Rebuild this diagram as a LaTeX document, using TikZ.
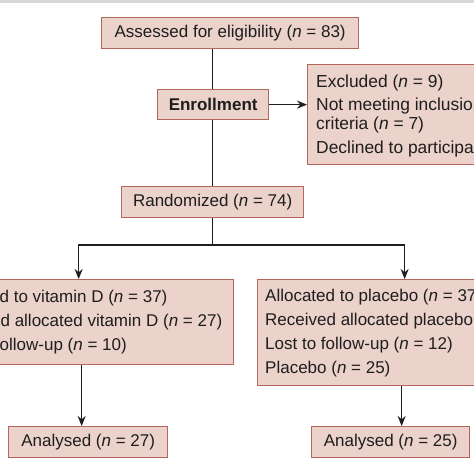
\documentclass[tikz,border=0pt]{standalone}
\usepackage{fontspec}
\setmainfont{Liberation Sans}
\usetikzlibrary{arrows.meta}
\definecolor{boxfill}{RGB}{235,210,202}
\definecolor{boxline}{RGB}{178,102,92}
\definecolor{ink}{RGB}{30,30,30}
\definecolor{band}{RGB}{216,216,216}
\tikzset{
  box/.style={draw=boxline, fill=boxfill, line width=1.3pt, inner sep=0pt, anchor=north west, text=ink,
    font=\fontsize{17}{20}\selectfont},
  txt/.style={anchor=west, align=left, inner sep=0pt, text=ink, font=\fontsize{17}{24}\selectfont},
  conn/.style={draw=ink, line width=1.3pt},
  arr/.style={conn, -{Stealth[length=10pt,width=8pt]}}
}
\newcommand{\nn}{\textit{n}}
\begin{document}
\begin{tikzpicture}[x=1pt,y=-1pt]
\useasboundingbox (0,0) rectangle (474,474);
\clip (0,0) rectangle (474,474);
\fill[white] (0,0) rectangle (474,474);
\fill[band] (0,0) rectangle (474,2.5);
% boxes
\node[box, minimum width=257pt, minimum height=31pt] (assess) at (101,17) {Assessed for eligibility (\nn{} = 83)};
\node[box, minimum width=111pt, minimum height=30pt] (enroll) at (157,89) {\bfseries Enrollment};
\node[box, minimum width=260pt, minimum height=100pt] (excl) at (307,64) {};
\node[box, minimum width=182pt, minimum height=31pt] (rand) at (121,186) {Randomized (\nn{} = 74)};
\node[box, minimum width=302pt, minimum height=85pt] (vit) at (-69,279) {};
\node[box, minimum width=294pt, minimum height=106pt] (plac) at (257,279) {};
\node[box, minimum width=159pt, minimum height=31pt] (anal1) at (8,426) {Analysed (\nn{} = 27)};
\node[box, minimum width=158pt, minimum height=31pt] (anal2) at (311,426) {Analysed (\nn{} = 25)};
% texts
\node[txt, font=\fontsize{17.4}{19}\selectfont] (excltxt) at ([xshift=9pt,yshift=-1pt]excl.west)
  {Excluded (\nn{} = 9)\\[4.5pt]Not meeting inclusion\\criteria (\nn{} = 7)\\[4.5pt]Declined to participate (\nn{} = 2)};
\node[txt] (vittxt) at ([xshift=8pt]vit.west)
  {Allocated to vitamin D (\nn{} = 37)\\Received allocated vitamin D (\nn{} = 27)\\Lost to follow-up (\nn{} = 10)};
\node[txt] (plactxt) at ([xshift=8pt]plac.west)
  {Allocated to placebo (\nn{} = 37)\\Received allocated placebo (\nn{} = 25)\\Lost to follow-up (\nn{} = 12)\\Placebo (\nn{} = 25)};
% connectors
\coordinate (split) at ([xshift=-0.5pt]enroll.south |- 0,245);
\draw[conn] ([xshift=-0.5pt]enroll.north |- assess.south) -- ([xshift=-0.5pt]enroll.north);
\draw[conn] ([xshift=-0.5pt]enroll.south) -- ([xshift=-0.5pt]enroll.south |- rand.north);
\draw[arr] (enroll.east) -- (excl.west |- enroll.east);
\draw[conn] (split |- rand.south) -- (split);
\draw[arr] (split) -| ([xshift=-4pt]vit.north);
\draw[arr] (split) -| (plac.north);
\draw[arr] ([xshift=-1pt]vit.south) -- ([xshift=-1pt]vit.south |- anal1.north);
\draw[arr] ([xshift=-3pt]plac.south) -- ([xshift=-3pt]plac.south |- anal2.north);
\end{tikzpicture}
\end{document}
